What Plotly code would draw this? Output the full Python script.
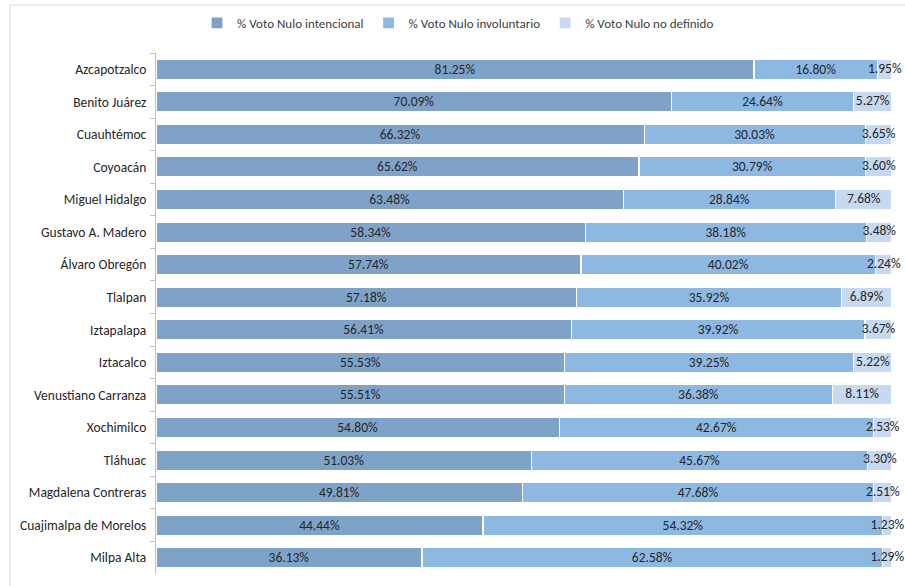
import plotly.graph_objects as go

categories = ["Azcapotzalco", "Benito Juárez", "Cuauhtémoc", "Coyoacán", "Miguel Hidalgo",
              "Gustavo A. Madero", "Álvaro Obregón", "Tlalpan", "Iztapalapa", "Iztacalco",
              "Venustiano Carranza", "Xochimilco", "Tláhuac", "Magdalena Contreras",
              "Cuajimalpa de Morelos", "Milpa Alta"]
intencional = [81.25, 70.09, 66.32, 65.62, 63.48, 58.34, 57.74, 57.18, 56.41, 55.53,
               55.51, 54.80, 51.03, 49.81, 44.44, 36.13]
involuntario = [16.80, 24.64, 30.03, 30.79, 28.84, 38.18, 40.02, 35.92, 39.92, 39.25,
                36.38, 42.67, 45.67, 47.68, 54.32, 62.58]
no_definido = [1.95, 5.27, 3.65, 3.60, 7.68, 3.48, 2.24, 6.89, 3.67, 5.22,
               8.11, 2.53, 3.30, 2.51, 1.23, 1.29]
series_names = ["% Voto Nulo intencional", "% Voto Nulo involuntario", "% Voto Nulo no definido"]
colors = ["#7fa3c8", "#8cb8e2", "#c6d9f0"]

FONT = "Carlito, Lato, sans-serif"
TXT = dict(family=FONT, size=13.5, color="#262626")

fig = go.Figure()
all_vals = [intencional, involuntario, no_definido]
for i, (name, vals, col) in enumerate(zip(series_names, all_vals, colors)):
    fig.add_trace(go.Bar(
        y=categories, x=vals, name=name, orientation="h",
        marker=dict(color=col, line=dict(color="#ffffff", width=1.2)),
        text=[f"{v:.2f}%" for v in vals] if i < 2 else None,
        textposition="inside" if i < 2 else "none",
        insidetextanchor="middle", textangle=0, constraintext="none",
        textfont=TXT,
    ))

# labels of the small third segment, centred on the segment
mid3 = [a + b + c / 2 for a, b, c in zip(intencional, involuntario, no_definido)]
fig.add_trace(go.Scatter(
    y=categories, x=mid3, mode="text", text=[f"{v:.2f}%" for v in no_definido],
    textposition="middle center", textfont=TXT, showlegend=False, hoverinfo="skip",
    cliponaxis=False,
))

fig.update_layout(
    barmode="stack", bargap=0.38,
    width=905, height=586,
    margin=dict(l=156, r=13, t=53, b=12, autoexpand=False),
    paper_bgcolor="white", plot_bgcolor="white",
    showlegend=True,
    legend=dict(orientation="h", x=(458 - 156) / 736, xanchor="center",
                y=(574 - 23) / 521, yanchor="middle",
                font=dict(family=FONT, size=13, color="#404040"),
                traceorder="normal", itemwidth=30),
    font=TXT,
    xaxis=dict(range=[0, 100], visible=False, fixedrange=True),
    yaxis=dict(range=[len(categories) - 0.5, -0.5], showline=True, linecolor="#bfbfbf",
               linewidth=1, ticks="outside", ticklen=5, tickcolor="#bfbfbf",
               tickson="boundaries", ticklabelstandoff=6, automargin=False,
               fixedrange=True, tickfont=TXT),
    shapes=[
        dict(type="line", xref="paper", yref="paper", x0=(10 - 156) / 736, x1=(905 - 156) / 736,
             y0=(574 - 5) / 521, y1=(574 - 5) / 521, line=dict(color="#d9d9d9", width=1)),
        dict(type="line", xref="paper", yref="paper", x0=(10 - 156) / 736, x1=(10 - 156) / 736,
             y0=(574 - 5) / 521, y1=-12 / 521, line=dict(color="#d9d9d9", width=1)),
    ],
)

fig.write_html("out.html", config={"displayModeBar": False},
               post_script="document.body.style.margin='0';")
